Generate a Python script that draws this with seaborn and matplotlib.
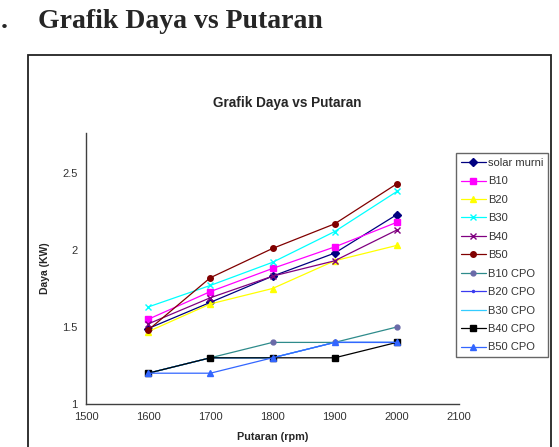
import matplotlib
matplotlib.use("Agg")
import matplotlib.pyplot as plt
import seaborn as sns
from matplotlib.patches import Rectangle

# data
rpm = [1600, 1700, 1800, 1900, 2000]
series_names = ["solar murni", "B10", "B20", "B30", "B40", "B50",
                "B10 CPO", "B20 CPO", "B30 CPO", "B40 CPO", "B50 CPO"]
solar_murni = [1.49, 1.66, 1.83, 1.98, 2.23]
b10 = [1.55, 1.73, 1.88, 2.02, 2.18]
b20 = [1.47, 1.65, 1.75, 1.93, 2.03]
b30 = [1.63, 1.77, 1.92, 2.12, 2.38]
b40 = [1.52, 1.69, 1.83, 1.93, 2.13]
b50 = [1.48, 1.82, 2.01, 2.17, 2.43]
b10_cpo = [1.2, 1.3, 1.4, 1.4, 1.5]
b20_cpo = [1.2, 1.3, 1.3, 1.4, 1.4]
b30_cpo = [1.2, 1.3, 1.3, 1.4, 1.4]
b40_cpo = [1.2, 1.3, 1.3, 1.3, 1.4]
b50_cpo = [1.2, 1.2, 1.3, 1.4, 1.4]
values = [solar_murni, b10, b20, b30, b40, b50,
          b10_cpo, b20_cpo, b30_cpo, b40_cpo, b50_cpo]

colors = ["#000080", "#FF00FF", "#FFFF00", "#00FFFF", "#800080", "#800000",
          "#2E8B8B", "#3A3AF0", "#33CCFF", "#000000", "#3366FF"]
mcolors = ["#000080", "#FF00FF", "#FFFF00", "#00FFFF", "#800080", "#800000",
           "#6A6AA8", "#3A3AF0", "#33CCFF", "#000000", "#3366FF"]
markers = ["D", "s", "^", "x", "x", "o", "o", ".", "None", "s", "^"]
msizes = [4, 4, 4.5, 4.5, 4.5, 4, 3.5, 3, 0, 4, 4.5]

sns.set_style("white")
plt.rcParams["font.family"] = ["Liberation Sans", "DejaVu Sans"]

fig = plt.figure(figsize=(5.59, 4.47), dpi=100)
ax = fig.add_axes([0.1538, 0.0962, 0.8212 - 0.1538, 0.7025 - 0.0962])

for name, vals, c, mc, m, s in zip(series_names, values, colors, mcolors, markers, msizes):
    sns.lineplot(x=rpm, y=vals, ax=ax, color=c, marker=m, ms=s, mec=mc, mfc=mc,
                 mew=1.0, lw=0.9, label=name)

ax.set_xlim(1500, 2100)
ax.set_ylim(1, 2.76)
ax.set_xticks([1500, 1600, 1700, 1800, 1900, 2000, 2100])
ax.set_yticks([1, 1.5, 2, 2.5])
ax.set_yticklabels(["1", "1.5", "2", "2.5"])
ax.tick_params(direction="out", length=3, width=0.8, labelsize=8,
               colors="#404040", labelcolor="#333333", pad=3)
for side in ["top", "right"]:
    ax.spines[side].set_visible(False)
for side in ["left", "bottom"]:
    ax.spines[side].set_color("#404040")
    ax.spines[side].set_linewidth(1.0)
ax.set_xlabel("Putaran (rpm)", fontsize=7.8, fontweight="bold", labelpad=7)
ax.set_ylabel("Daya (KW)", fontsize=7.5, fontweight="bold", labelpad=9)

leg = ax.legend(loc="upper left", bbox_to_anchor=(0.991, 0.926), fontsize=8,
                frameon=True, fancybox=False, edgecolor="#404040",
                borderpad=0.45, labelspacing=0.76, handlelength=2.3,
                handletextpad=0.15, borderaxespad=0)
leg.get_frame().set_linewidth(1.0)
for t in leg.get_texts():
    t.set_color("#333333")

fig.text(287.5 / 559, 1 - 103 / 447, "Grafik Daya vs Putaran", ha="center", va="center",
         fontsize=9.8, fontweight="bold")

# page heading and chart border
fig.text(1 / 559, 1 - 28 / 447, ".", ha="left", va="baseline", fontsize=20,
         fontweight="bold", family="Liberation Serif")
fig.text(38 / 559, 1 - 28 / 447, "Grafik Daya vs Putaran", ha="left", va="baseline",
         fontsize=20, fontweight="bold", family="Liberation Serif")
fig.patches.append(Rectangle((28 / 559, -0.02), (551 - 28) / 559, (447 - 55) / 447 + 0.02,
                             transform=fig.transFigure, fill=False,
                             edgecolor="#222222", linewidth=1.3))

fig.savefig("out.png", dpi=100)
